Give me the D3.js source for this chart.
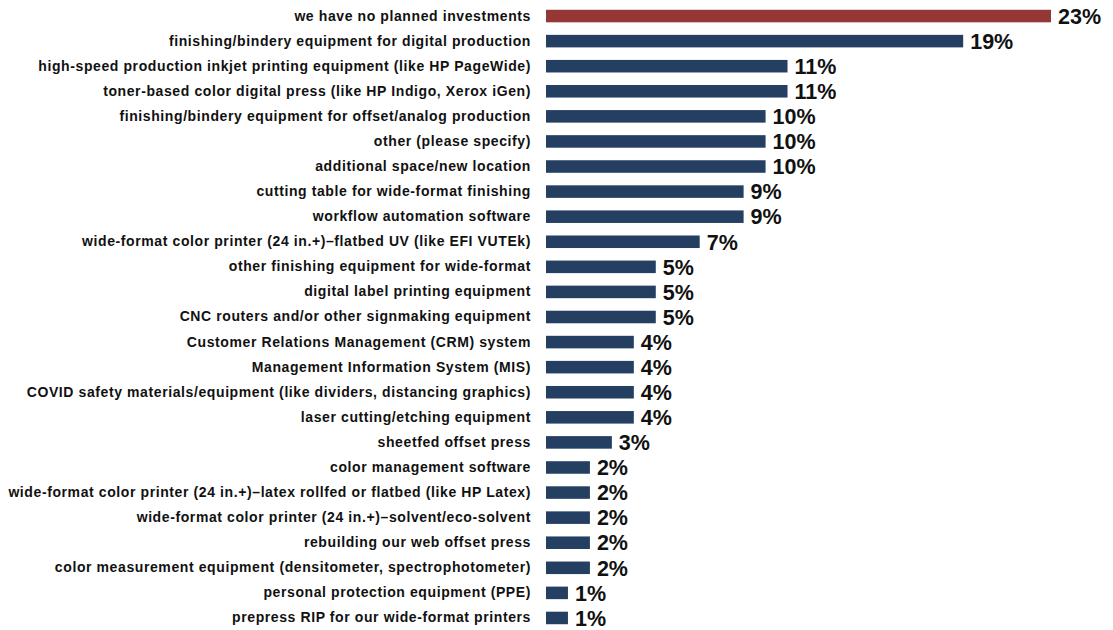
<!DOCTYPE html>
<html>
<head>
<meta charset="utf-8">
<script src="https://cdn.jsdelivr.net/npm/d3@7"></script>
<style>
  html, body { margin: 0; padding: 0; background: #ffffff; }
  svg { display: block; }
</style>
</head>
<body>
<svg id="chart" width="1113" height="630"></svg>
<script>
// Planned investments, share of respondents (%)
const categories = [
  "we have no planned investments",
  "finishing/bindery equipment for digital production",
  "high-speed production inkjet printing equipment (like HP PageWide)",
  "toner-based color digital press (like HP Indigo, Xerox iGen)",
  "finishing/bindery equipment for offset/analog production",
  "other (please specify)",
  "additional space/new location",
  "cutting table for wide-format finishing",
  "workflow automation software",
  "wide-format color printer (24 in.+)\u2013flatbed UV (like EFI VUTEk)",
  "other finishing equipment for wide-format",
  "digital label printing equipment",
  "CNC routers and/or other signmaking equipment",
  "Customer Relations Management (CRM) system",
  "Management Information System (MIS)",
  "COVID safety materials/equipment (like dividers, distancing graphics)",
  "laser cutting/etching equipment",
  "sheetfed offset press",
  "color management software",
  "wide-format color printer (24 in.+)\u2013latex rollfed or flatbed (like HP Latex)",
  "wide-format color printer (24 in.+)\u2013solvent/eco-solvent",
  "rebuilding our web offset press",
  "color measurement equipment (densitometer, spectrophotometer)",
  "personal protection equipment (PPE)",
  "prepress RIP for our wide-format printers"
];
const values = [23, 19, 11, 11, 10, 10, 10, 9, 9, 7, 5, 5, 5, 4, 4, 4, 4, 3, 2, 2, 2, 2, 2, 1, 1];
const highlighted = ["we have no planned investments"];

const data = categories.map((c, i) => ({ category: c, value: values[i] }));

const svg = d3.select("#chart");

const x = d3.scaleLinear().domain([0, 23]).range([546, 1051]);
const y = d3.scaleBand()
  .domain(categories)
  .range([3.5, 630.5])
  .paddingInner(0.5)
  .paddingOuter(0.25);

const fmt = v => d3.format(".0f")(v) + "%";

// bars
svg.append("g")
  .selectAll("rect")
  .data(data)
  .join("rect")
  .attr("x", x(0))
  .attr("y", d => y(d.category))
  .attr("width", d => x(d.value) - x(0))
  .attr("height", y.bandwidth())
  .attr("fill", d => highlighted.includes(d.category) ? "#953735" : "#243f62");

// category axis (labels only)
const yAxis = d3.axisLeft(y).tickSize(0).tickPadding(0);
const gy = svg.append("g")
  .attr("transform", `translate(${x(0) - 15},0)`)
  .call(yAxis);
gy.select(".domain").remove();
gy.selectAll("text")
  .attr("font-family", "'Liberation Sans', Arial, sans-serif")
  .attr("font-weight", "bold")
  .attr("font-size", "14px")
  .attr("letter-spacing", "0.6px")
  .attr("fill", "#111");

// value labels
svg.append("g")
  .selectAll("text")
  .data(data)
  .join("text")
  .attr("x", d => x(d.value) + 7)
  .attr("y", d => y(d.category) + y.bandwidth() / 2)
  .attr("dy", "0.36em")
  .attr("font-family", "'Liberation Sans', Arial, sans-serif")
  .attr("font-weight", "bold")
  .attr("font-size", "21.5px")
  .attr("fill", "#111")
  .text(d => fmt(d.value));
</script>
</body>
</html>
